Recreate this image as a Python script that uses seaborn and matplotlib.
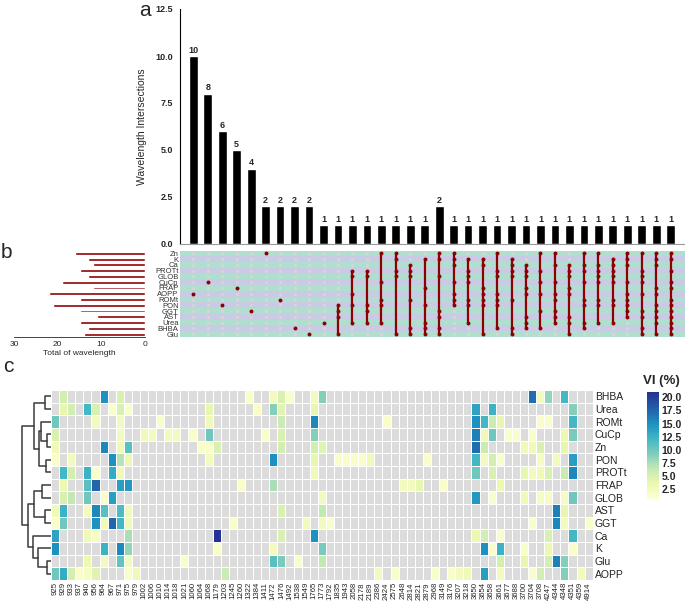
import numpy as np
import pandas as pd
import matplotlib
matplotlib.use("Agg")
import matplotlib.pyplot as plt
import seaborn as sns
from matplotlib.colors import ListedColormap

# ---- upset part (panels a and b) ----
set_order = ["Zn", "K", "Ca", "PROTt", "GLOB", "CuCp", "FRAP", "AOPP",
             "ROMt", "PON", "GGT", "AST", "Urea", "BHBA", "Glu"]
set_sizes = [16, 13, 12, 15, 13, 19, 12, 22, 15, 21, 15, 11, 15, 13, 14]

inter_counts = [10, 8, 6, 5, 4, 2, 2, 2, 2, 1,
                1, 1, 1, 1, 1, 1, 1, 2,
                1, 1, 1, 1, 1, 1, 1, 1, 1, 1, 1, 1, 1, 1, 1, 1]
inter_members = [
    ["AOPP"], ["CuCp"], ["PON"], ["FRAP"], ["GGT"], ["Zn"], ["ROMt"], ["BHBA"], ["Glu"], ["Urea"],
    ["PON", "AST", "GGT", "Glu"],
    ["Urea", "PON", "PROTt", "GLOB", "AOPP"],
    ["Urea", "PON", "PROTt", "GLOB", "GGT"],
    ["Urea", "ROMt", "CuCp", "Zn", "PON"],
    ["Zn", "PROTt", "GLOB", "K", "Glu"],
    ["BHBA", "ROMt", "PROTt", "GLOB", "Ca", "Glu"],
    ["BHBA", "Urea", "PON", "FRAP", "K", "Glu"],
    ["BHBA", "Zn", "GLOB", "AST", "GGT", "K", "Glu"],
    ["ROMt", "CuCp", "Zn", "PON", "Ca", "K", "AOPP"],
    ["Urea", "ROMt", "CuCp", "PON", "PROTt", "GLOB", "K"],
    ["ROMt", "PON", "FRAP", "Ca", "K", "Glu", "AOPP"],
    ["BHBA", "ROMt", "Zn", "PON", "PROTt", "GLOB", "AOPP"],
    ["BHBA", "ROMt", "PROTt", "GLOB", "Ca", "K", "Glu"],
    ["BHBA", "Urea", "PROTt", "FRAP", "GLOB", "AST", "Ca", "AOPP"],
    ["BHBA", "CuCp", "Zn", "PROTt", "GGT", "AOPP"],
    ["Urea", "ROMt", "CuCp", "Zn", "AST", "GGT", "Ca", "AOPP"],
    ["PROTt", "FRAP", "GLOB", "AST", "Ca", "Glu", "AOPP", "Urea"],
    ["BHBA", "Urea", "ROMt", "CuCp", "Zn", "PON", "PROTt", "Ca"],
    ["Urea", "ROMt", "CuCp", "Zn", "PON", "PROTt", "GLOB", "Ca"],
    ["Urea", "ROMt", "CuCp", "PON", "PROTt", "GLOB", "Ca", "K"],
    ["ROMt", "CuCp", "Zn", "PON", "AST", "GGT", "Ca", "K", "AOPP"],
    ["BHBA", "CuCp", "Zn", "PROTt", "GLOB", "AST", "GGT", "Glu", "AOPP"],
    ["Urea", "Zn", "PON", "FRAP", "AST", "GGT", "Ca", "K", "Glu", "AOPP"],
    ["BHBA", "Urea", "ROMt", "CuCp", "Zn", "PON", "PROTt", "FRAP", "AST", "GGT", "K", "Glu"],
]

# ---- heatmap part (panel c) ----
wavelengths = ["925", "929", "933", "937", "940", "956", "964", "967", "971", "975", "979",
               "1002", "1006", "1010", "1014", "1018", "1021", "1060", "1064", "1068", "1179",
               "1203", "1245", "1260", "1322", "1384", "1411", "1472", "1476", "1492", "1538",
               "1549", "1765", "1773", "1792", "1835", "1943", "2058", "2178", "2189", "2386",
               "2424", "2575", "2648", "2814", "2821", "2879", "2968", "3149", "3176", "3207",
               "3218", "3650", "3654", "3658", "3661", "3677", "3688", "3700", "3704", "3708",
               "4247", "4344", "4348", "4351", "4359", "4914"]
heat_rows = ["BHBA", "Urea", "ROMt", "CuCp", "Zn", "PON", "PROTt", "FRAP",
             "GLOB", "AST", "GGT", "Ca", "K", "Glu", "AOPP"]

bhba_vi = {"929": 5.5, "964": 15, "971": 5, "1322": 1.5, "1472": 2.5, "1476": 5, "1492": 1.5,
           "1765": 2.5, "1773": 9, "3704": 17, "3708": 2.5, "4247": 8.5, "4348": 12}
urea_vi = {"929": 4, "933": 5.5, "940": 12, "956": 5, "967": 1.5, "971": 5, "975": 1.5,
           "1068": 4, "1384": 1.5, "1472": 9, "1476": 4.5, "1765": 4, "3650": 13.5,
           "3658": 12.5, "4351": 9}
romt_vi = {"925": 10, "956": 2.5, "971": 2.5, "1010": 1.5, "1068": 3, "1476": 6, "1765": 15.5,
           "2424": 1.5, "3650": 15, "3654": 12, "3658": 6, "3661": 4, "3708": 1.5,
           "4247": 1.5, "4351": 12}
cucp_vi = {"925": 5, "971": 2.5, "1002": 3, "1006": 2.5, "1014": 2.5, "1018": 2.5, "1060": 1.5,
           "1068": 10, "1411": 1.5, "1476": 5, "1765": 9, "3650": 16, "3654": 3, "3658": 10,
           "3677": 1.5, "3688": 1.5, "3704": 1.5, "4348": 3.5, "4351": 9.5}
zn_vi = {"925": 3, "964": 15.5, "971": 3, "975": 11, "1064": 1.5, "1068": 1.5, "1179": 5,
         "1476": 5.5, "1765": 5.5, "1773": 4.5, "3650": 17, "3654": 6, "3700": 3, "3704": 3,
         "3708": 5, "4348": 4}
pon_vi = {"925": 1.5, "933": 2.5, "967": 15, "971": 7, "975": 3.5, "1068": 2.5, "1472": 15,
          "1765": 4, "1835": 1.5, "1943": 1.5, "2058": 1.5, "2178": 1.5, "2189": 3, "2879": 1.5,
          "3650": 12, "3654": 2.5, "3658": 5.5, "3661": 1.5, "3708": 2, "4344": 2.5, "4351": 14}
prott_vi = {"929": 12, "933": 5.5, "940": 12.5, "956": 1.5, "967": 13, "971": 3, "1765": 3,
            "3650": 10, "3658": 5, "3700": 4, "3704": 2.5, "3708": 3, "4247": 5, "4348": 6,
            "4351": 15.5}
frap_vi = {"929": 3.5, "940": 11, "956": 17.5, "971": 14, "975": 14.5, "1260": 1.5, "1472": 7.5,
           "2648": 2.5, "2814": 2.5, "2821": 4, "3149": 1.5, "3661": 3.5}
glob_vi = {"929": 5, "933": 6.5, "940": 10, "964": 1.5, "967": 14, "1773": 2.5, "3650": 14.5,
           "3658": 1.5, "3700": 3, "3708": 2, "4247": 2, "4348": 2, "4351": 10}
ast_vi = {"925": 3, "929": 12.5, "940": 2.5, "956": 15.5, "964": 11, "971": 11.5, "975": 3,
          "1476": 5, "1773": 6.5, "4344": 16, "4348": 4}
ggt_vi = {"925": 1.5, "929": 10, "956": 15, "964": 3, "967": 17.5, "971": 12, "975": 3,
          "1245": 1.5, "1549": 2.5, "1773": 2.5, "1792": 1.5, "3704": 1.5, "4344": 15.5,
          "4348": 2.5, "4914": 1.5}
ca_vi = {"925": 13.5, "940": 3, "956": 2, "975": 7.5, "1179": 20.8, "1476": 5, "1765": 15,
         "3650": 3.5, "3654": 5.5, "3661": 1.5, "4247": 5, "4351": 12}
k_vi = {"925": 15, "964": 12.5, "971": 15.5, "975": 8.5, "1179": 1.5, "1472": 2.5, "1773": 9.5,
        "3654": 15, "3658": 1.5, "3661": 12.5, "3700": 1.5, "4247": 3.5, "4351": 1.5}
glu_vi = {"940": 3.5, "964": 2.5, "971": 10.5, "975": 2.5, "1021": 1.5, "1472": 11, "1476": 9.5,
          "1538": 1.5, "1773": 6.5, "3661": 5.5, "3700": 4, "4247": 5.5, "4344": 16, "4348": 9}
aopp_vi = {"925": 10, "929": 13, "933": 5.5, "937": 1.5, "940": 2, "956": 4.5, "975": 1.5,
           "979": 3, "1203": 6, "2386": 2.5, "2575": 1.5, "2968": 1.5, "3176": 1.5, "3207": 2.5,
           "3218": 3, "3654": 14, "3661": 2.5, "3704": 1.5, "3708": 5.5, "4348": 9, "4359": 2.5}

# dendrogram of the heatmap rows: (left, right, merge height)
row_tree = (
    (("BHBA", "Urea", 0.22),
     (("ROMt", ("CuCp", "Zn", 0.15), 0.35), ("PON", "PROTt", 0.18), 0.42), 0.58),
    ((("FRAP", "GLOB", 0.30), ("AST", "GGT", 0.20), 0.60),
     ("Ca", ("K", ("Glu", "AOPP", 0.15), 0.45), 0.63), 0.80),
    1.0)

W, H = 685, 603
sns.set_style("white")
plt.rcParams["font.family"] = ["Liberation Sans", "DejaVu Sans"]

fig = plt.figure(figsize=(W / 100, H / 100), dpi=100)


def px_axes(x0, y0, x1, y1):
    return fig.add_axes([x0 / W, 1 - y1 / H, (x1 - x0) / W, (y1 - y0) / H])


n_bars = len(inter_counts)
n_sets = len(set_order)
bar_pos = np.arange(n_bars)
xlim = (-0.92, n_bars - 0.01)

# a: intersection sizes
ax_bar = px_axes(180, 9, 685, 244)
sns.barplot(x=bar_pos, y=inter_counts, color="black", saturation=1, width=0.6, ax=ax_bar)
ax_bar.bar_label(ax_bar.containers[0], fontsize=6.5, fontweight="bold", padding=1)
ax_bar.set_xlim(*xlim)
ax_bar.set_ylim(0, 12.5)
ax_bar.set_yticks(np.arange(0, 12.6, 2.5))
ax_bar.set_yticklabels([f"{v:.1f}" for v in np.arange(0, 12.6, 2.5)], fontsize=6.5, fontweight="bold")
ax_bar.set_xticks([])
ax_bar.set_xlabel("")
ax_bar.set_ylabel("Wavelength Intersections", fontsize=7.5, labelpad=6)
ax_bar.tick_params(axis="y", length=3, width=0.8, pad=2)
for s in ["top", "right"]:
    ax_bar.spines[s].set_visible(False)
ax_bar.spines["left"].set_color("black")
ax_bar.spines["left"].set_linewidth(0.8)
ax_bar.spines["bottom"].set_color("#999999")
ax_bar.spines["bottom"].set_linewidth(0.8)

# b: matrix
ax_m = px_axes(180, 250.5, 685, 337)
stripe = ["#b0dfcf", "#c8cbe3"]
for i in range(n_sets):
    ax_m.axhspan(i - 0.5, i + 0.5, color=stripe[i % 2], lw=0)
gx, gy = np.meshgrid(bar_pos, np.arange(n_sets))
sns.scatterplot(x=gx.ravel(), y=gy.ravel(), s=5, color="#d6d6d6", linewidth=0, ax=ax_m)
for j, members in enumerate(inter_members):
    ys = [set_order.index(m) for m in members]
    if len(ys) > 1:
        ax_m.vlines(j, min(ys), max(ys), color="#8b0000", lw=1.6, zorder=3)
    ax_m.scatter([j] * len(ys), ys, s=8, color="#8b0000", lw=0, zorder=4)
ax_m.set_xlim(*xlim)
ax_m.set_ylim(n_sets - 0.5, -0.5)
ax_m.set_xticks([])
ax_m.set_yticks(range(n_sets))
ax_m.set_yticklabels(set_order, fontsize=5.5, color="#333333")
ax_m.tick_params(axis="y", length=0, pad=1)
for s in ax_m.spines.values():
    s.set_visible(False)

# b: set sizes
ax_l = px_axes(14, 250.5, 145, 337)
sns.barplot(x=set_sizes, y=set_order, orient="h", color="#8b0000", saturation=1, width=0.5, ax=ax_l)
ax_l.set_xlim(30, 0)
ax_l.set_ylim(n_sets - 0.5, -0.5)
ax_l.set_xticks([30, 20, 10, 0])
ax_l.set_xticklabels(["30", "20", "10", "0"], fontsize=6)
ax_l.set_yticks([])
ax_l.set_ylabel("")
ax_l.set_xlabel("Total of wavelength", fontsize=6, labelpad=1)
ax_l.tick_params(axis="x", length=2, width=0.6, pad=1)
for s in ["top", "right", "left"]:
    ax_l.spines[s].set_visible(False)
ax_l.spines["bottom"].set_linewidth(0.6)

# c: heatmap
row_dicts = [bhba_vi, urea_vi, romt_vi, cucp_vi, zn_vi, pon_vi, prott_vi, frap_vi,
             glob_vi, ast_vi, ggt_vi, ca_vi, k_vi, glu_vi, aopp_vi]
heat_df = pd.DataFrame(row_dicts, index=heat_rows).reindex(columns=wavelengths).astype(float)
empty_df = pd.DataFrame(0.0, index=heat_rows, columns=wavelengths)

base = plt.get_cmap("YlGnBu")
vi_cmap = ListedColormap(base(np.linspace(0.0, 0.88, 256)))

ax_h = px_axes(51, 390, 592.7, 580)
cax = px_axes(646.5, 392, 658.5, 500)
sns.heatmap(empty_df, cmap=ListedColormap(["#dcdcdc"]), cbar=False,
            linewidths=0.7, linecolor="white", ax=ax_h)
sns.heatmap(heat_df, cmap=vi_cmap, vmin=0.5, vmax=21,
            linewidths=0.7, linecolor="white", ax=ax_h, cbar_ax=cax,
            cbar_kws={"ticks": [2.5, 5, 7.5, 10, 12.5, 15, 17.5, 20]},
            mask=heat_df.isna())
ax_h.yaxis.tick_right()
ax_h.set_yticks(np.arange(len(heat_rows)) + 0.5)
ax_h.set_yticklabels(heat_rows, rotation=0, fontsize=7.5, color="#222222")
ax_h.set_xticks(np.arange(len(wavelengths)) + 0.5)
ax_h.set_xticklabels(wavelengths, rotation=90, fontsize=5.6, color="#222222")
ax_h.tick_params(length=0, pad=1.5)
ax_h.set_xlabel("")
ax_h.set_ylabel("")

cax.tick_params(length=0, pad=2)
cax.set_yticklabels(["2.5", "5.0", "7.5", "10.0", "12.5", "15.0", "17.5", "20.0"],
                    fontsize=7.5, fontweight="bold")
for s in cax.spines.values():
    s.set_visible(False)
fig.text(643 / W, 1 - 384 / H, "VI (%)", fontsize=9.5, fontweight="bold")

# dendrogram
ax_d = px_axes(21, 390, 51, 580)


def draw_tree(node):
    if isinstance(node, str):
        return heat_rows.index(node) + 0.5, 0.0
    left, right, h = node
    y1, h1 = draw_tree(left)
    y2, h2 = draw_tree(right)
    ax_d.plot([h1, h, h, h2], [y1, y1, y2, y2], color="#3a3a3a", lw=1.1)
    return (y1 + y2) / 2, h


draw_tree(row_tree)
ax_d.set_xlim(1.03, 0)
ax_d.set_ylim(len(heat_rows), 0)
ax_d.axis("off")

# panel letters
fig.text(139 / W, 1 - 16 / H, "a", fontsize=15)
fig.text(1 / W, 1 - 258 / H, "b", fontsize=15)
fig.text(3 / W, 1 - 372 / H, "c", fontsize=15)

fig.savefig("out.png", dpi=100)
